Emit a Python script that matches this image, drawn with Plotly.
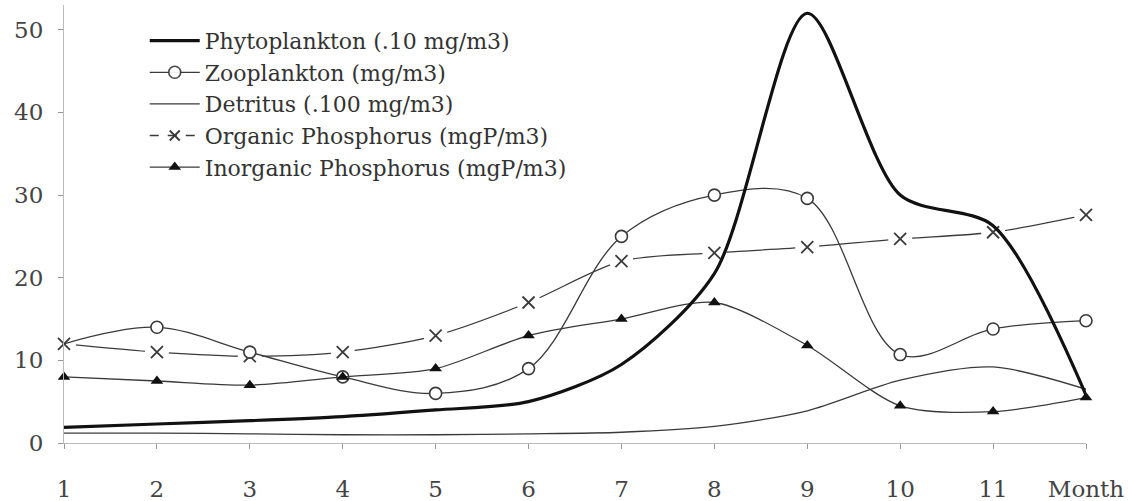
import plotly.graph_objects as go

months = [1, 2, 3, 4, 5, 6, 7, 8, 9, 10, 11, 12]
month_labels = ["1", "2", "3", "4", "5", "6", "7", "8", "9", "10", "11", "Month"]
phytoplankton = [1.9, 2.3, 2.7, 3.2, 4.0, 5.0, 9.5, 20.5, 52.0, 30.0, 26.3, 5.8]
zooplankton = [12.0, 14.0, 11.0, 8.0, 6.0, 9.0, 25.0, 30.0, 29.6, 10.7, 13.8, 14.8]
detritus = [1.2, 1.2, 1.1, 1.0, 1.0, 1.1, 1.3, 2.0, 3.9, 7.6, 9.2, 6.5]
organic_p = [12.0, 11.0, 10.5, 11.0, 13.0, 17.0, 22.0, 23.0, 23.7, 24.7, 25.5, 27.6]
inorganic_p = [8.0, 7.5, 7.0, 8.0, 9.0, 13.0, 15.0, 17.0, 11.8, 4.5, 3.8, 5.5]

names = ["Phytoplankton (.10 mg/m3)", "Zooplankton (mg/m3)", "Detritus (.100 mg/m3)",
         "Organic Phosphorus (mgP/m3)", "Inorganic Phosphorus (mgP/m3)"]

INK = "#3a3a3a"
FONT = "DejaVu Serif, Liberation Serif, serif"
fig = go.Figure()

# Organic phosphorus: line, white halos (gaps around markers), X markers
fig.add_trace(go.Scatter(x=months, y=organic_p, mode="lines", showlegend=False,
                         line=dict(color=INK, width=1.3, shape="spline", smoothing=0.8),
                         cliponaxis=False, hoverinfo="skip"))
fig.add_trace(go.Scatter(x=months, y=organic_p, mode="markers", showlegend=False,
                         marker=dict(symbol="circle", size=24, color="white", line=dict(width=0)),
                         cliponaxis=False, hoverinfo="skip"))
fig.add_trace(go.Scatter(x=months, y=organic_p, mode="markers", showlegend=False,
                         marker=dict(symbol="x-thin-open", size=12, color=INK, line=dict(width=1.8, color=INK)),
                         cliponaxis=False))

# Detritus
fig.add_trace(go.Scatter(x=months, y=detritus, mode="lines", name=names[2], legendrank=3,
                         line=dict(color=INK, width=1.3, shape="spline", smoothing=0.8),
                         cliponaxis=False))
# Zooplankton
fig.add_trace(go.Scatter(x=months, y=zooplankton, mode="lines+markers", name=names[1], legendrank=2,
                         line=dict(color=INK, width=1.3, shape="spline", smoothing=1.0),
                         marker=dict(symbol="circle", size=12, color="white",
                                     opacity=[0] + [1] * 11,
                                     line=dict(width=1.6, color=INK)),
                         cliponaxis=False))
# Inorganic phosphorus
fig.add_trace(go.Scatter(x=months, y=inorganic_p, mode="lines+markers", name=names[4], legendrank=5,
                         line=dict(color=INK, width=1.3, shape="spline", smoothing=0.8),
                         marker=dict(symbol="triangle-up", size=11, color="#111"),
                         cliponaxis=False))
# Phytoplankton
fig.add_trace(go.Scatter(x=months, y=phytoplankton, mode="lines", name=names[0], legendrank=1,
                         line=dict(color="#111", width=3.2, shape="spline", smoothing=0.8),
                         cliponaxis=False))
# legend entry for organic phosphorus
fig.add_trace(go.Scatter(x=[None], y=[None], mode="lines+markers", name=names[3], legendrank=4,
                         line=dict(color=INK, width=1.3, dash="dash"),
                         marker=dict(symbol="x-thin-open", size=10, line=dict(width=1.8, color=INK))))

fig.update_layout(
    width=1128, height=501,
    margin=dict(l=64, r=42, t=5, b=58, autoexpand=False),
    paper_bgcolor="white", plot_bgcolor="white",
    font=dict(family=FONT, size=23, color="#444"),
    legend=dict(x=0.079, y=0.966, xanchor="left", yanchor="top", bgcolor="rgba(0,0,0,0)",
                font=dict(family=FONT, size=22, color="#333"),
                tracegroupgap=0, itemwidth=50),
    xaxis=dict(range=[1, 12], tickvals=months, ticktext=month_labels, showgrid=False,
               zeroline=False, showline=True, linecolor="#bbbbbb", linewidth=1, automargin=False,
               ticks="outside", ticklen=5, tickcolor="#999", ticklabelstandoff=20,
               tickfont=dict(family=FONT, size=23, color="#444")),
    yaxis=dict(range=[0, 53], tickvals=[0, 10, 20, 30, 40, 50], showgrid=False,
               zeroline=False, showline=True, linecolor="#bbbbbb", linewidth=1, automargin=False,
               ticks="outside", ticklen=5, tickcolor="#999", ticklabelstandoff=10,
               tickfont=dict(family=FONT, size=23, color="#444")),
)

fig.write_html("out.html")
